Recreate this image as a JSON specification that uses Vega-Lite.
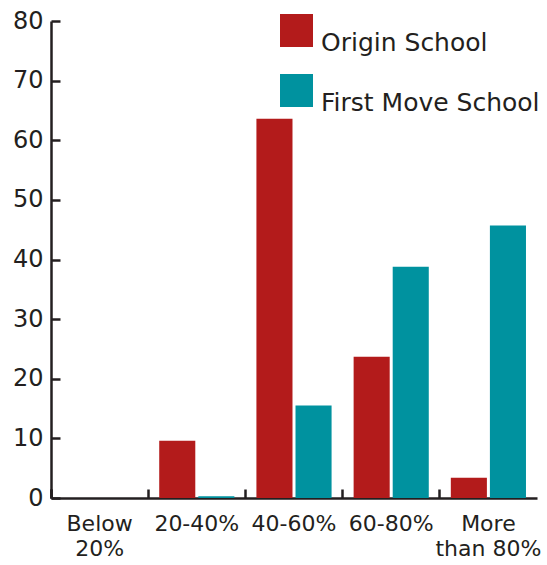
{
  "$schema": "https://vega.github.io/schema/vega-lite/v6.json",
  "autosize": "none",
  "width": 486,
  "height": 477,
  "padding": {"left": 51, "top": 21, "right": 10, "bottom": 67},
  "background": "white",
  "config": {
    "font": "DejaVu Sans",
    "view": {"stroke": null}
  },
  "data": {
    "values": [
      {"range": "Below 20%", "school": "Origin School", "value": 0},
      {"range": "Below 20%", "school": "First Move School", "value": 0},
      {"range": "20-40%", "school": "Origin School", "value": 9.6},
      {"range": "20-40%", "school": "First Move School", "value": 0.3},
      {"range": "40-60%", "school": "Origin School", "value": 63.6},
      {"range": "40-60%", "school": "First Move School", "value": 15.5},
      {"range": "60-80%", "school": "Origin School", "value": 23.7},
      {"range": "60-80%", "school": "First Move School", "value": 38.8},
      {"range": "More than 80%", "school": "Origin School", "value": 3.4},
      {"range": "More than 80%", "school": "First Move School", "value": 45.7}
    ]
  },
  "mark": {"type": "bar"},
  "encoding": {
    "x": {
      "field": "range",
      "type": "nominal",
      "sort": ["Below 20%", "20-40%", "40-60%", "60-80%", "More than 80%"],
      "scale": {"paddingInner": 0, "paddingOuter": 0},
      "axis": {
        "title": null,
        "labelAngle": 0,
        "labelFontSize": 22,
        "labelColor": "#231f20",
        "labelPadding": 24,
        "labelLineHeight": 25,
        "labelExpr": "datum.value == 'Below 20%' ? ['Below', '20%'] : datum.value == 'More than 80%' ? ['More', 'than 80%'] : datum.label",
        "bandPosition": 0,
        "tickExtra": true,
        "tickSize": -9,
        "tickWidth": 2.5,
        "tickColor": "#231f20",
        "domainColor": "#231f20",
        "domainWidth": 2.5
      }
    },
    "xOffset": {
      "field": "school",
      "type": "nominal",
      "sort": ["Origin School", "First Move School"],
      "scale": {"paddingInner": 0.077, "paddingOuter": 0.282}
    },
    "y": {
      "field": "value",
      "type": "quantitative",
      "scale": {"domain": [0, 80], "nice": false},
      "axis": {
        "title": null,
        "values": [0, 10, 20, 30, 40, 50, 60, 70, 80],
        "grid": false,
        "labelFontSize": 24,
        "labelColor": "#231f20",
        "labelPadding": 17,
        "tickSize": -9,
        "tickWidth": 2.5,
        "tickColor": "#231f20",
        "domainColor": "#231f20",
        "domainWidth": 2.5
      }
    },
    "color": {
      "field": "school",
      "type": "nominal",
      "sort": ["Origin School", "First Move School"],
      "scale": {"domain": ["Origin School", "First Move School"], "range": ["#B31B1B", "#00929F"]},
      "legend": {
        "title": null,
        "orient": "none",
        "legendX": 229,
        "legendY": -7,
        "symbolType": "square",
        "symbolSize": 1089,
        "symbolStrokeWidth": 0,
        "labelFontSize": 25,
        "labelBaseline": "top",
        "labelColor": "#231f20",
        "labelOffset": 8,
        "rowPadding": 18,
        "labelLimit": 400
      }
    }
  }
}
